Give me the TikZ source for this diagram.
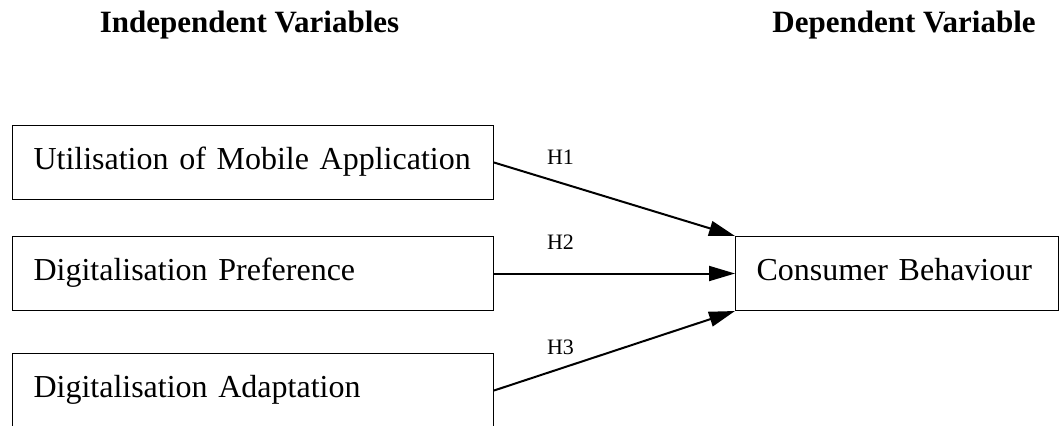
\documentclass[tikz,border=0pt]{standalone}
\usepackage{fontspec}
\setmainfont{Liberation Serif}
\usetikzlibrary{arrows.meta}

\tikzset{
    varbox/.style={draw, line width=0.5pt, anchor=north west, minimum height=37pt,
        inner xsep=10.5pt, text height=10.5pt, text depth=4pt, align=left,
        font=\fontsize{16}{19}\selectfont},
    hyp/.style={-{Triangle[length=13pt,width=7.5pt]}, line width=1pt},
    hlabel/.style={anchor=base, font=\fontsize{11}{13}\selectfont},
    heading/.style={anchor=base, font=\fontsize{15.5}{18}\selectfont\bfseries}
}

\begin{document}
\begin{tikzpicture}[x=0.5pt, y=-0.5pt]
        \useasboundingbox (0,0) rectangle (1061,425);

        \node[heading] (indep) at (249.5,32) {Independent Variables};
        \node[heading] (dep) at (904,32) {Dependent Variable};

        \foreach \name/\y/\txt in {uma/125/Utilisation of Mobile Application,
                                   dp/236/Digitalisation Preference,
                                   da/353/Digitalisation Adaptation} {
            \node[varbox, text width=219.5pt] (\name) at (12,\y) {\txt};
        }
        \node[varbox, text width=140.5pt] (cb) at (735,236) {Consumer Behaviour};

        \draw[hyp] (uma.east) -- (cb.north west);
        \draw[hyp] (dp.east) -- (cb.west);
        \draw[hyp] (da.east) -- (cb.south west);

        \node[hlabel] (h1) at (560.5,164) {H1};
        \node[hlabel] (h2) at (560.5,249) {H2};
        \node[hlabel] (h3) at (560.5,354) {H3};
    \end{tikzpicture}
\end{document}
